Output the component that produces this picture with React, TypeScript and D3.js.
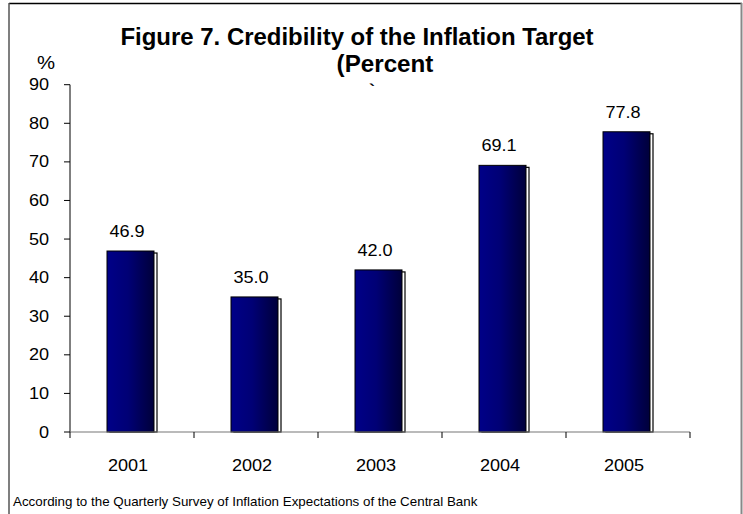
import React from "react";
import * as d3 from "d3";

const years = ["2001", "2002", "2003", "2004", "2005"];
const values = [46.9, 35.0, 42.0, 69.1, 77.8];
const yTicks = [0, 10, 20, 30, 40, 50, 60, 70, 80, 90];
const titleLine1 = "Figure 7. Credibility of the Inflation Target";
const titleLine2 = "(Percent";
const footnote = "According to the Quarterly Survey of Inflation Expectations of the Central Bank";

const SX = 1.13;

function T(props: { x: number; y: number; size: number; anchor?: string; bold?: boolean; dy?: string; sx?: number; children: React.ReactNode }) {
  const { x, y, size, anchor = "start", bold, dy, sx = SX, children } = props;
  return (
    <text
      transform={`translate(${x},${y}) scale(${sx},1)`}
      textAnchor={anchor}
      fontSize={size}
      fontWeight={bold ? "bold" : "normal"}
      dy={dy}
    >
      {children}
    </text>
  );
}

export default function App() {
  const W = 743, H = 514;
  const x = d3.scaleBand<string>().domain(years).range([70, 690]).padding(0);
  const y = d3.scaleLinear().domain([0, 90]).range([432, 84.7]);
  const bw = 47;
  const font = "'Liberation Sans', Arial, sans-serif";
  const boundaries = [...years.map((d) => x(d)!), 690];

  return (
    <svg width={W} height={H} style={{ position: "absolute", left: 0, top: 0, background: "#fff" }} fontFamily={font}>
      <defs>
        <linearGradient id="barGrad" x1="0" x2="1" y1="0" y2="0">
          <stop offset="0%" stopColor="#000088" />
          <stop offset="45%" stopColor="#000075" />
          <stop offset="100%" stopColor="#00003a" />
        </linearGradient>
      </defs>
      {/* frame */}
      <line x1={9} x2={742} y1={3.5} y2={3.5} stroke="#000" strokeWidth={1.5} />
      <line x1={9} x2={9} y1={3} y2={H} stroke="#555" strokeWidth={1.5} />
      <line x1={741.5} x2={741.5} y1={3} y2={H} stroke="#888" strokeWidth={2} />

      {/* title */}
      <T x={357} y={45} size={24.2} anchor="middle" bold sx={0.99}>{titleLine1}</T>
      <T x={385} y={72} size={24.2} anchor="middle" bold sx={1.0}>{titleLine2}</T>
      <T x={372} y={96} size={16} anchor="middle" bold>`</T>
      <T x={46} y={69} size={18} anchor="middle">%</T>

      {/* y axis */}
      <line x1={70} x2={70} y1={y(90)} y2={y(0)} stroke="#000" />
      {yTicks.map((t) => (
        <g key={t}>
          <line x1={64} x2={70} y1={y(t)} y2={y(t)} stroke="#000" />
          <T x={49} y={y(t)} dy="0.35em" anchor="end" size={16}>{t}</T>
        </g>
      ))}

      {/* bars */}
      {years.map((yr, i) => {
        const cx = x(yr)! + x.bandwidth() / 2;
        const bx = cx - 25;
        const top = y(values[i]);
        return (
          <g key={yr}>
            <rect x={bx + 3} y={top + 2} width={bw} height={y(0) - top - 2} fill="#fff" stroke="#000" strokeWidth={1.2} />
            <rect x={bx} y={top} width={bw} height={y(0) - top} fill="url(#barGrad)" stroke="#000" strokeWidth={1} />
            <T x={cx - 5} y={top - 14} anchor="middle" size={16}>{values[i].toFixed(1)}</T>
          </g>
        );
      })}

      {/* x axis */}
      <line x1={70} x2={690} y1={y(0)} y2={y(0)} stroke="#777" strokeWidth={1.2} />
      {boundaries.map((b, i) => (
        <line key={i} x1={b} x2={b} y1={y(0)} y2={y(0) + 6} stroke="#000" />
      ))}
      {years.map((yr) => (
        <T key={yr} x={x(yr)! + x.bandwidth() / 2 - 4} y={471} anchor="middle" size={16}>{yr}</T>
      ))}

      <T x={13} y={506} size={12.5} sx={1.07}>{footnote}</T>
    </svg>
  );
}
